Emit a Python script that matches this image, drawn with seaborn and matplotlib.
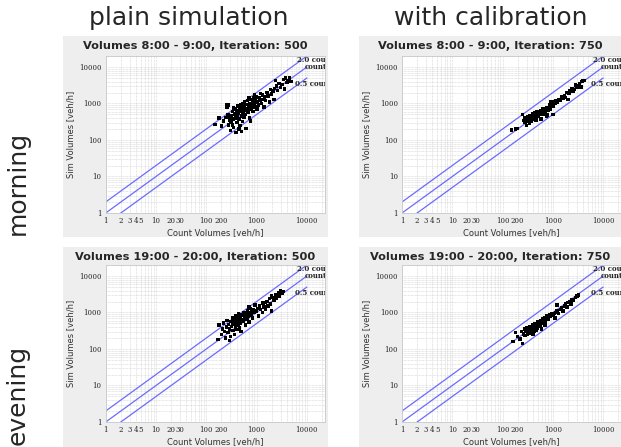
import matplotlib
matplotlib.use("Agg")
import matplotlib.pyplot as plt
import matplotlib.ticker as mticker
from matplotlib.patches import Rectangle
import pandas as pd
import seaborn as sns

# column / row headings and panel titles
col_titles = ["plain simulation", "with calibration"]
row_titles = ["morning", "evening"]
panel_titles = [["Volumes 8:00 - 9:00, Iteration: 500", "Volumes 8:00 - 9:00, Iteration: 750"],
                ["Volumes 19:00 - 20:00, Iteration: 500", "Volumes 19:00 - 20:00, Iteration: 750"]]

# reference lines (sim = ratio * count)
line_ratios = [2.0, 1.0, 0.5]
line_labels = ["2.0 count", "count", "0.5 count"]
line_x = [1, 10000]

x_ticks = [1, 2, 3, 4, 5, 10, 20, 30, 100, 200, 1000, 10000]
y_ticks = [1, 10, 100, 1000, 10000]

# morning, plain simulation
am_plain_count = [150, 180, 250, 260, 200, 220, 240, 270, 280, 290, 300, 310, 320, 330, 340, 350, 360, 370,
                  380, 390, 400, 410, 420, 430, 440, 450, 460, 470, 480, 490, 500, 510, 520, 530, 540, 550,
                  560, 570, 580, 590, 600, 610, 620, 640, 660, 680, 700, 720, 740, 760, 780, 800, 820, 850,
                  870, 900, 930, 960, 1000, 1020, 1050, 1100, 1150, 1200, 1250, 1300, 1350, 1400, 1450, 1500,
                  1600, 1700, 1800, 1900, 2000, 2100, 2200, 2300, 2400, 2500, 2600, 2800, 3000, 3200, 3400,
                  3600, 3800, 4000, 4200, 4500, 4800, 1200, 900, 700, 350, 280, 260, 300, 750, 500, 450, 330]
am_plain_sim = [270, 400, 900, 800, 240, 330, 420, 500, 260, 350, 180, 450, 300, 600, 380, 220, 520, 700,
                400, 160, 620, 300, 480, 850, 550, 380, 700, 250, 600, 900, 450, 750, 320, 1000, 580, 680,
                420, 1100, 800, 500, 650, 210, 950, 700, 1200, 560, 850, 400, 1000, 1300, 700, 900, 1100, 600,
                1400, 1000, 800, 1250, 1500, 700, 1100, 900, 1400, 1250, 1000, 1700, 1300, 800, 1500, 1200,
                2000, 1600, 1100, 2400, 1800, 2200, 1300, 2600, 4200, 3000, 2300, 3500, 2700, 3300, 4500,
                2500, 5000, 3800, 4200, 5000, 4000, 1900, 1700, 1400, 750, 900, 420, 300, 330, 170, 200, 260]

# morning, with calibration
am_cal_count = [150, 180, 200, 250, 260, 270, 280, 290, 300, 310, 320, 330, 340, 350, 360, 370, 380, 390,
                400, 410, 420, 430, 440, 450, 460, 470, 480, 490, 500, 520, 540, 560, 580, 600, 620, 640,
                660, 680, 700, 720, 740, 760, 780, 800, 820, 850, 880, 900, 950, 1000, 1050, 1100, 1150,
                1200, 1250, 1300, 1400, 1500, 1600, 1700, 1800, 2000, 2100, 2200, 2300, 2400, 2500, 2700,
                2800, 3000, 3200, 3400, 3600, 3800, 4000, 4300, 1900, 900, 1000, 580, 750]
am_cal_sim = [190, 200, 210, 500, 340, 420, 300, 380, 250, 330, 440, 360, 290, 470, 400, 320, 350, 520,
              420, 380, 460, 560, 400, 480, 350, 520, 600, 450, 540, 480, 600, 520, 650, 560, 700, 600,
              520, 720, 650, 560, 780, 700, 480, 750, 640, 900, 820, 700, 950, 850, 1100, 1000, 1200,
              1050, 1150, 1300, 1200, 1500, 1350, 1600, 1450, 1300, 1900, 2300, 2100, 2600, 2200, 2400,
              3200, 2700, 3000, 3500, 2800, 4000, 4200, 4300, 2000, 1100, 500, 380, 450]

# evening, plain simulation
pm_plain_count = [170, 180, 200, 210, 220, 230, 240, 250, 260, 270, 280, 290, 300, 310, 320, 330, 340, 350,
                  360, 370, 380, 390, 400, 410, 420, 430, 440, 450, 460, 470, 480, 490, 500, 520, 540, 560,
                  580, 600, 620, 640, 660, 680, 700, 720, 750, 780, 800, 830, 860, 900, 950, 1000, 1050,
                  1100, 1150, 1200, 1300, 1350, 1400, 1500, 1600, 1700, 1800, 1900, 2000, 2100, 2200, 2400,
                  2500, 2700, 2800, 3000, 3200, 3400, 2000, 1500, 900, 700, 450, 330, 290]
pm_plain_sim = [180, 450, 250, 350, 520, 300, 200, 400, 600, 280, 470, 350, 220, 560, 420, 700, 320, 480,
                250, 620, 400, 800, 520, 340, 680, 450, 900, 580, 380, 750, 500, 300, 650, 850, 560, 1000,
                700, 450, 900, 650, 1100, 800, 550, 1000, 1300, 850, 1100, 700, 1200, 1000, 1600, 1100, 1300,
                800, 1500, 1200, 1000, 1800, 1400, 1200, 2000, 1500, 2400, 1700, 1100, 2600, 2200, 3000,
                2500, 3500, 2800, 4000, 3300, 3800, 2800, 1900, 1600, 1400, 850, 500, 170]

# evening, with calibration
pm_cal_count = [160, 180, 200, 220, 240, 250, 260, 270, 280, 290, 300, 310, 320, 330, 340, 350, 360, 370,
                380, 390, 400, 410, 420, 430, 440, 450, 460, 470, 480, 490, 500, 520, 540, 560, 580, 600,
                620, 640, 660, 680, 700, 720, 740, 760, 780, 800, 850, 900, 950, 1000, 1050, 1100, 1150,
                1200, 1300, 1400, 1500, 1600, 1700, 1800, 1900, 2000, 2200, 2300, 2400, 2600, 2800, 3000,
                3200, 1200, 700, 400, 600]
pm_cal_sim = [160, 280, 220, 190, 300, 140, 260, 350, 230, 300, 380, 260, 330, 280, 420, 310, 360, 270,
              400, 340, 450, 370, 300, 480, 390, 420, 330, 500, 440, 380, 550, 460, 520, 420, 600, 500,
              560, 680, 540, 620, 720, 580, 660, 800, 700, 640, 850, 780, 900, 850, 950, 700, 1000,
              1100, 950, 1200, 1350, 1100, 1500, 1700, 1400, 1900, 2000, 1700, 2300, 2200, 2600, 2800,
              3000, 1600, 450, 250, 350]

panels = [[(am_plain_count, am_plain_sim), (am_cal_count, am_cal_sim)],
          [(pm_plain_count, pm_plain_sim), (pm_cal_count, pm_cal_sim)]]

sns.set_style("white")
plt.rcParams["font.family"] = ["DejaVu Sans"]

W, H = 621, 447
fig = plt.figure(figsize=(W / 100, H / 100), dpi=100)
fig.patch.set_facecolor("white")

def fx(px):
    return px / W

def fy(py):
    return 1 - py / H

# grey panel boxes in pixels
box_cols = [(63, 328), (359, 640)]
box_rows = [(36, 237), (247, 460)]
axes_left = [105.7, 402]
axes_top = [56, 265]
axes_w, axes_h = 219.3, 157
xmax = 10 ** (axes_w / 50.3)

for r in range(2):
    for c in range(2):
        bx0, bx1 = box_cols[c]
        by0, by1 = box_rows[r]
        fig.patches.append(Rectangle((fx(bx0), fy(by1)), fx(bx1 - bx0), (by1 - by0) / H,
                                     transform=fig.transFigure, facecolor="#eeeeee",
                                     edgecolor="none", zorder=-5))
        fig.text(fx((bx0 + min(bx1, W)) / 2), fy(box_rows[r][0] + 10), panel_titles[r][c],
                 ha="center", va="center", fontsize=8.2, fontweight="bold")

        ax = fig.add_axes([fx(axes_left[c]), fy(axes_top[r] + axes_h), fx(axes_w), axes_h / H])
        ax.set_zorder(2)
        ax.set_facecolor("white")
        cnt, sim = panels[r][c]
        df = pd.DataFrame({"count": cnt, "sim": sim})
        ax.set_xscale("log")
        ax.set_yscale("log")
        ax.set_xlim(1, xmax)
        ax.set_ylim(1, 20000)

        for ratio in line_ratios:
            ax.plot(line_x, [ratio * v for v in line_x], color="#6b6bff", lw=0.9, zorder=2)

        sns.scatterplot(data=df, x="count", y="sim", ax=ax, marker="s", s=6,
                        color="black", edgecolor="none", zorder=3, legend=False)

        label_pos = [(6300, 15500), (9100, 10000), (5800, 3400)]
        for (lx, ly), txt in zip(label_pos, line_labels):
            ax.text(lx, ly, txt, fontsize=5, fontweight="bold", family="DejaVu Serif",
                    va="center", ha="left", zorder=4, clip_on=True)

        ax.xaxis.set_major_locator(mticker.FixedLocator(x_ticks))
        ax.xaxis.set_major_formatter(mticker.FixedFormatter([str(v) for v in x_ticks]))
        ax.yaxis.set_major_locator(mticker.FixedLocator(y_ticks))
        ax.yaxis.set_major_formatter(mticker.FixedFormatter([str(v) for v in y_ticks]))
        ax.xaxis.set_minor_locator(mticker.LogLocator(base=10, subs=range(2, 10), numticks=20))
        ax.yaxis.set_minor_locator(mticker.LogLocator(base=10, subs=range(2, 10), numticks=20))
        ax.xaxis.set_minor_formatter(mticker.NullFormatter())
        ax.yaxis.set_minor_formatter(mticker.NullFormatter())
        ax.grid(True, which="both", color="#d0d0d0", linestyle=(0, (1, 1)), lw=0.5, zorder=0)
        ax.set_axisbelow(True)
        ax.tick_params(which="major", labelsize=5, length=2, width=0.5, color="#999999", pad=1)
        ax.tick_params(which="minor", length=0)
        for lab in ax.get_xticklabels() + ax.get_yticklabels():
            lab.set_family("DejaVu Serif")
        for sp in ax.spines.values():
            sp.set_color("#c8c8c8")
            sp.set_linewidth(0.6)
        ax.set_xlabel("Count Volumes [veh/h]", fontsize=6, color="#333333", labelpad=2)
        ax.set_ylabel("Sim Volumes [veh/h]", fontsize=6, color="#333333", labelpad=3)

col_centers = [189, 491]
for c in range(2):
    fig.text(fx(col_centers[c]), fy(18), col_titles[c],
             ha="center", va="center", fontsize=18)
row_centers = [183, 395]
for r in range(2):
    fig.text(fx(18), fy(row_centers[r]), row_titles[r], rotation=90,
             ha="center", va="center", fontsize=18)

fig.savefig("out.png", dpi=100)
